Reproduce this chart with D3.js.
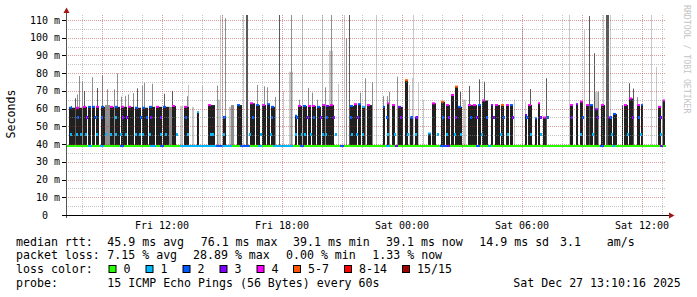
<!DOCTYPE html>
<html>
<head>
<meta charset="utf-8">
<script src="https://cdn.jsdelivr.net/npm/d3@7/dist/d3.min.js"></script>
<style>
body { margin: 0; background: #fff; }
svg text { font-family: "DejaVu Sans Mono", monospace; }
</style>
</head>
<body>
<script>
// times are minutes after Fri Dec 26 2025 00:00, values in ms
var barStart = [441,462,483,498,510,522,537,564,579,597,618,639,660,681,702,723,750,786,825,858,903,945,984,1002,1020,1035,1047,1119,1128,1143,1158,1170,1185,1200,1212,1224,1284,1296,1308,1320,1335,1383,1395,1410,1428,1449,1464,1479,1518,1530,1557,1572,1587,1599,1608,1638,1653,1668,1680,1707,1719,1737,1752,1764,1809,1818,1839,1848,1863,1944,1962,1974,1992,2004,2019,2037,2058,2073,2100,2106,2121,2145,2157,2208,2223];
var barEnd   = [459,480,495,507,519,531,549,576,594,615,636,657,678,699,720,741,762,801,831,879,912,960,999,1014,1032,1044,1059,1125,1140,1155,1167,1182,1197,1209,1224,1236,1296,1305,1317,1329,1350,1389,1401,1419,1443,1458,1473,1488,1527,1542,1569,1584,1596,1608,1620,1653,1665,1677,1698,1713,1734,1746,1761,1773,1815,1830,1845,1854,1872,1953,1968,1983,2001,2013,2028,2049,2070,2085,2103,2118,2133,2154,2163,2217,2229];
var barTop   = [60.5,60.5,61,61,61,61,61,61,61,61,61,60.5,60.5,61,61,61,61.5,61,58,62,55.3,62,63,62,62,62.5,61,56,61.5,61.5,61.5,61.5,61,62,61.5,62,61.5,62.5,62.5,61,62,61,63,62,61,76,55,55,46,63,63.9,62,67.7,72.4,61,62,62,62,64.6,62,62,62,62,62,56.4,62,54.5,63,55,62,62.5,64,62,62,59.6,62,55,57,61.5,62,65.7,62,62,61,64.6];
var barLoss  = [2,4,4,2,2,4,2,4,2,4,4,2,2,2,4,2,4,4,1,4,2,2,4,2,4,2,2,2,4,2,4,4,2,4,3,4,2,4,2,1,4,2,4,4,3,7,2,3,1,4,7,4,4,7,2,4,4,2,4,3,4,7,4,2,3,4,2,4,4,4,3,4,4,2,3,4,3,2,3,4,4,4,2,4,4];

// single outlier pings (shade 0 light, 1 mid, 2 dark), span in minutes
var spikeAt    = [446,459,464,472,481,487,511,526,539,541,549,556,577,586,596,608,619,632,644,659,667,691,726,741,751,775,794,798,809,839,886,888,895,900,909,920,928,962,971,1004,1026,1034,1059,1072,1083,1101,1107,1132,1139,1141,1159,1169,1184,1201,1209,1222,1227,1249,1266,1272,1281,1314,1329,1349,1363,1384,1394,1402,1424,1462,1471,1474,1489,1504,1614,1623,1642,1672,1687,1775,1799,1809,1823,1872,1942,1987,2000,2015,2020,2029,2044,2052,2064,2121,2134,2144,2187,2202,2221];
var spikeTop   = [61.5,65.8,68,78.4,75.6,70,77.7,71.6,67.7,78.8,62,70.9,70.9,79.9,66.8,67.2,68,68.7,71.4,73,74.5,74,68.4,61,70,61.5,67,73.3,61,73,73,65,112.8,112.8,111,61,62,112.8,112.8,73.3,72.6,72,66.6,112.8,70,80.8,112.8,65,69,112.8,71.7,69,65,112.8,72,92.7,112.8,74,112.8,99.6,112.8,69,77.1,75,112.8,67,67,69.5,78,73.3,77.3,112.8,74.7,64.9,69.5,65,72.8,76.5,75.2,65,106.2,64,71,77.1,112.8,104.3,112.2,91.2,69.5,69.5,112.8,112.8,112.8,74.3,71.3,66.5,112.8,83.6,64.8];
var spikeShade = [2,2,1,1,1,2,1,2,1,1,1,1,1,1,1,1,1,1,2,1,1,1,2,1,2,0,1,0,0,0,1,0,0,0,1,0,1,0,2,1,1,1,1,2,0,0,1,1,1,0,1,1,1,0,1,0,1,0,0,1,2,1,1,1,0,1,1,1,1,0,0,0,0,0,2,0,2,2,2,0,0,0,2,2,0,0,2,2,0,1,0,2,0,2,2,1,0,0,1];
var spikeSpan  = [3,3,3,3,3,3,3,3,3,3,15,3,3,3,3,3,3,3,3,3,3,3,3,9,3,9,3,3,6,3,3,9,3,3,3,12,9,3,6,3,3,3,3,3,3,12,3,3,3,3,3,3,3,3,3,12,3,3,3,3,3,3,3,3,3,3,3,3,3,3,3,3,3,3,3,9,3,3,3,3,3,3,3,3,3,3,3,3,12,3,3,9,3,3,3,3,3,3,3];

// median line pieces inside the smoke
var lowMarkValue = 45.7;
var lowMarkAt = [444,462,474,489,522,549,564,579,594,609,639,651,660,681,714,729,762,795,864,870,903,981,1014,1044,1119,1137,1146,1164,1200,1209,1239,1287,1302,1320,1395,1416,1455,1479,1545,1572,1596,1614,1677,1734,1755,1824,1854,1974,2010,2067,2115,2154,2214];
var midMarkValue = 55.1;
var midMarkAt   = [465,492,519,537,579,600,612,654,672,684,714,789,903,990,1047,1122,1155,1173,1194,1212,1233,1284,1305,1392,1434,1467,1482,1560,1578,1599,1644,1662,1692,1713,1743,1770,1812,1854,1875,1947,1980,2025,2064,2130,2148,2214];
var midMarkLoss = [2,3,2,2,1,3,3,2,2,3,3,2,2,2,2,2,3,2,3,2,3,2,3,2,3,2,3,2,3,3,2,3,2,3,2,3,2,3,2,3,2,3,2,3,2,3];

// median at the floor (39.1 ms), loss per stretch
var baseStart = [432,498,510,534,546,594,606,684,702,714,726,774,882,900,930,954,984,1008,1020,1053,1113,1134,1146,1254,1266,1392,1404,1419,1428,1554,1575,1584,1662,1674,1698,1707,2034,2046,2070,2079,2214,2223];
var baseLoss  = [0,1,0,1,0,2,0,1,0,2,0,1,2,1,0,2,0,1,0,1,0,2,0,2,0,1,0,3,0,2,3,0,2,0,1,0,2,0,1,0,3,0];
var baseValue = 39.1;

var lossKeys   = [0,1,2,3,4,7,14,15];
var lossLabels = ["0","1","2","3","4","5-7","8-14","15/15"];
var lossColors = ["#26ff00","#00b8ff","#0059ff","#7e00ff","#ff00ff","#ff5500","#ff0000","#a10000"];

var rttStats  = ["45.9 ms avg","76.1 ms max","39.1 ms min","39.1 ms now","14.9 ms sd","3.1","am/s"];
var lossStats = ["7.15 % avg","28.89 % max","0.00 % min","1.33 % now"];

var width = 697, height = 297;
var svg = d3.select("body").append("svg")
  .attr("width", width)
  .attr("height", height);

var day0 = new Date(2025, 11, 26);
function t(m) { return new Date(+day0 + m * 60000); }
function lossColor(l) { return lossColors[lossKeys.indexOf(l)]; }

var x = d3.scaleTime().domain([t(432), t(2232)]).range([66, 666]);
var y = d3.scaleLinear().domain([0, 112.8]).range([215, 15]);
var shades = ["#c8c8c8", "#8e8e8e", "#5a5a5a"];

var plot = svg.append("g");

// outliers
plot.selectAll(".spike")
  .data(spikeAt)
  .enter().append("rect")
  .attr("x", function(d) { return Math.round(x(t(d))); })
  .attr("width", function(d, i) { return Math.max(1, Math.round(x(t(d + spikeSpan[i])) - x(t(d)))); })
  .attr("y", function(d, i) { return y(spikeTop[i]); })
  .attr("height", function(d, i) { return y(baseValue) - y(spikeTop[i]); })
  .style("fill", function(d, i) { return shades[spikeShade[i]]; });

// dense smoke
plot.selectAll(".bar")
  .data(barStart)
  .enter().append("rect")
  .attr("x", function(d) { return Math.round(x(t(d))); })
  .attr("width", function(d, i) { return Math.round(x(t(barEnd[i]))) - Math.round(x(t(d))); })
  .attr("y", function(d, i) { return y(barTop[i]); })
  .attr("height", function(d, i) { return y(baseValue) - y(barTop[i]); })
  .style("fill", "#202020");

// median on top of bars
plot.selectAll(".top")
  .data(barStart)
  .enter().append("rect")
  .attr("x", function(d) { return Math.round(x(t(d))); })
  .attr("width", function(d, i) { return Math.min(3, Math.round(x(t(barEnd[i]))) - Math.round(x(t(d)))); })
  .attr("y", function(d, i) { return y(barTop[i]) - 1; })
  .attr("height", 2)
  .style("fill", function(d, i) { return lossColor(barLoss[i]); });

plot.selectAll(".lowmark")
  .data(lowMarkAt)
  .enter().append("rect")
  .attr("x", function(d) { return Math.round(x(t(d))); })
  .attr("width", 2)
  .attr("y", Math.round(y(lowMarkValue)) - 1)
  .attr("height", 3)
  .style("fill", lossColor(1));

plot.selectAll(".midmark")
  .data(midMarkAt)
  .enter().append("rect")
  .attr("x", function(d) { return Math.round(x(t(d))); })
  .attr("width", 2)
  .attr("y", Math.round(y(midMarkValue)) - 1)
  .attr("height", 3)
  .style("fill", function(d, i) { return lossColor(midMarkLoss[i]); });

// floor median line
plot.selectAll(".base")
  .data(baseStart)
  .enter().append("rect")
  .attr("x", function(d) { return Math.round(x(t(d))); })
  .attr("width", function(d, i) {
    var e = i + 1 < baseStart.length ? baseStart[i + 1] : 2232;
    return Math.round(x(t(e))) - Math.round(x(t(d)));
  })
  .attr("y", Math.round(y(baseValue)) - 1)
  .attr("height", 2)
  .style("fill", function(d, i) { return lossColor(baseLoss[i]); });

// grid on top, like rrdtool
var grid = svg.append("g").attr("fill", "none").attr("stroke-dasharray", "1,1");
var hours = d3.timeHour.range(t(433), t(2232));
hours.forEach(function(h) {
  var px = Math.round(x(h)) + 0.5;
  grid.append("line")
    .attr("x1", px).attr("x2", px).attr("y1", 15).attr("y2", 215)
    .attr("stroke", h.getHours() % 3 === 0 ? "rgba(170,40,40,0.45)" : "rgba(140,140,140,0.5)");
});
d3.range(5, 112, 5).forEach(function(v) {
  var py = Math.round(y(v)) + 0.5;
  grid.append("line")
    .attr("x1", 66).attr("x2", 666).attr("y1", py).attr("y2", py)
    .attr("stroke", v % 10 === 0 ? "rgba(170,40,40,0.45)" : "rgba(140,140,140,0.5)");
});

// axes
svg.append("line").attr("x1", 66.5).attr("x2", 66.5).attr("y1", 13).attr("y2", 218)
  .attr("stroke", "#555");
svg.append("line").attr("x1", 62).attr("x2", 670).attr("y1", 215.5).attr("y2", 215.5)
  .attr("stroke", "#000");
svg.append("path").attr("d", "M63.5,13L66.5,7.5L69.5,13Z").style("fill", "#a01818");
svg.append("path").attr("d", "M669,212.5L674.5,215.5L669,218.5Z").style("fill", "#a01818");

var yTicks = d3.range(0, 111, 10);
svg.selectAll(".ytick")
  .data(yTicks)
  .enter().append("line")
  .attr("x1", 62).attr("x2", 66)
  .attr("y1", function(d) { return Math.round(y(d)) + 0.5; })
  .attr("y2", function(d) { return Math.round(y(d)) + 0.5; })
  .attr("stroke", "#000");

svg.selectAll(".ylab")
  .data(yTicks)
  .enter().append("text")
  .attr("x", function(d) { return d === 0 ? 48 : 60; })
  .attr("y", function(d) { return y(d) + 3.6; })
  .attr("text-anchor", "end")
  .style("font-size", "10px")
  .style("fill", "#000")
  .text(function(d) { return d === 0 ? "0" : d + " m"; });

var fmt = d3.timeFormat("%a %H:%M");
svg.selectAll(".xlab")
  .data(hours.filter(function(h) { return h.getHours() % 6 === 0; }))
  .enter().append("text")
  .attr("x", function(d) { return x(d); })
  .attr("y", 229)
  .attr("text-anchor", "middle")
  .style("font-size", "10px")
  .style("fill", "#000")
  .text(fmt);

svg.append("text")
  .attr("transform", "translate(15,114) rotate(-90)")
  .attr("text-anchor", "middle")
  .style("font-size", "11.6px")
  .text("Seconds");

svg.append("text")
  .attr("transform", "translate(684,5) rotate(90)")
  .style("font-size", "8.2px")
  .style("fill", "#c4c4c4")
  .text("RRDTOOL / TOBI OETIKER");

// legend
var lg = svg.append("g").style("font-size", "11.6px").style("fill", "#000");
function put(px, py, s) {
  lg.append("text").attr("x", px).attr("y", py).attr("xml:space", "preserve").text(s);
}
put(16, 245.7, "median rtt:");
[107.3, 200.7, 293, 386, 479.3, 560, 606.7].forEach(function(px, i) { put(px, 245.7, rttStats[i]); });
put(16, 259.3, "packet loss:");
[107.3, 193, 286, 372.3].forEach(function(px, i) { put(px, 259.3, lossStats[i]); });
put(16, 273.3, "loss color:");
var boxX = [109, 146, 183, 220, 257, 293.5, 344.5, 402.5];
lossLabels.forEach(function(l, i) {
  lg.append("rect").attr("x", boxX[i]).attr("y", 265.5).attr("width", 7).attr("height", 7)
    .style("fill", lossColors[i]).style("stroke", "#000");
  put(boxX[i] + 14.5, 273.3, l);
});
put(16, 287.3, "probe:");
put(107.3, 287.3, "15 ICMP Echo Pings (56 Bytes) every 60s");
put(513.3, 287.3, "Sat Dec 27 13:10:16 2025");
</script>
</body>
</html>
